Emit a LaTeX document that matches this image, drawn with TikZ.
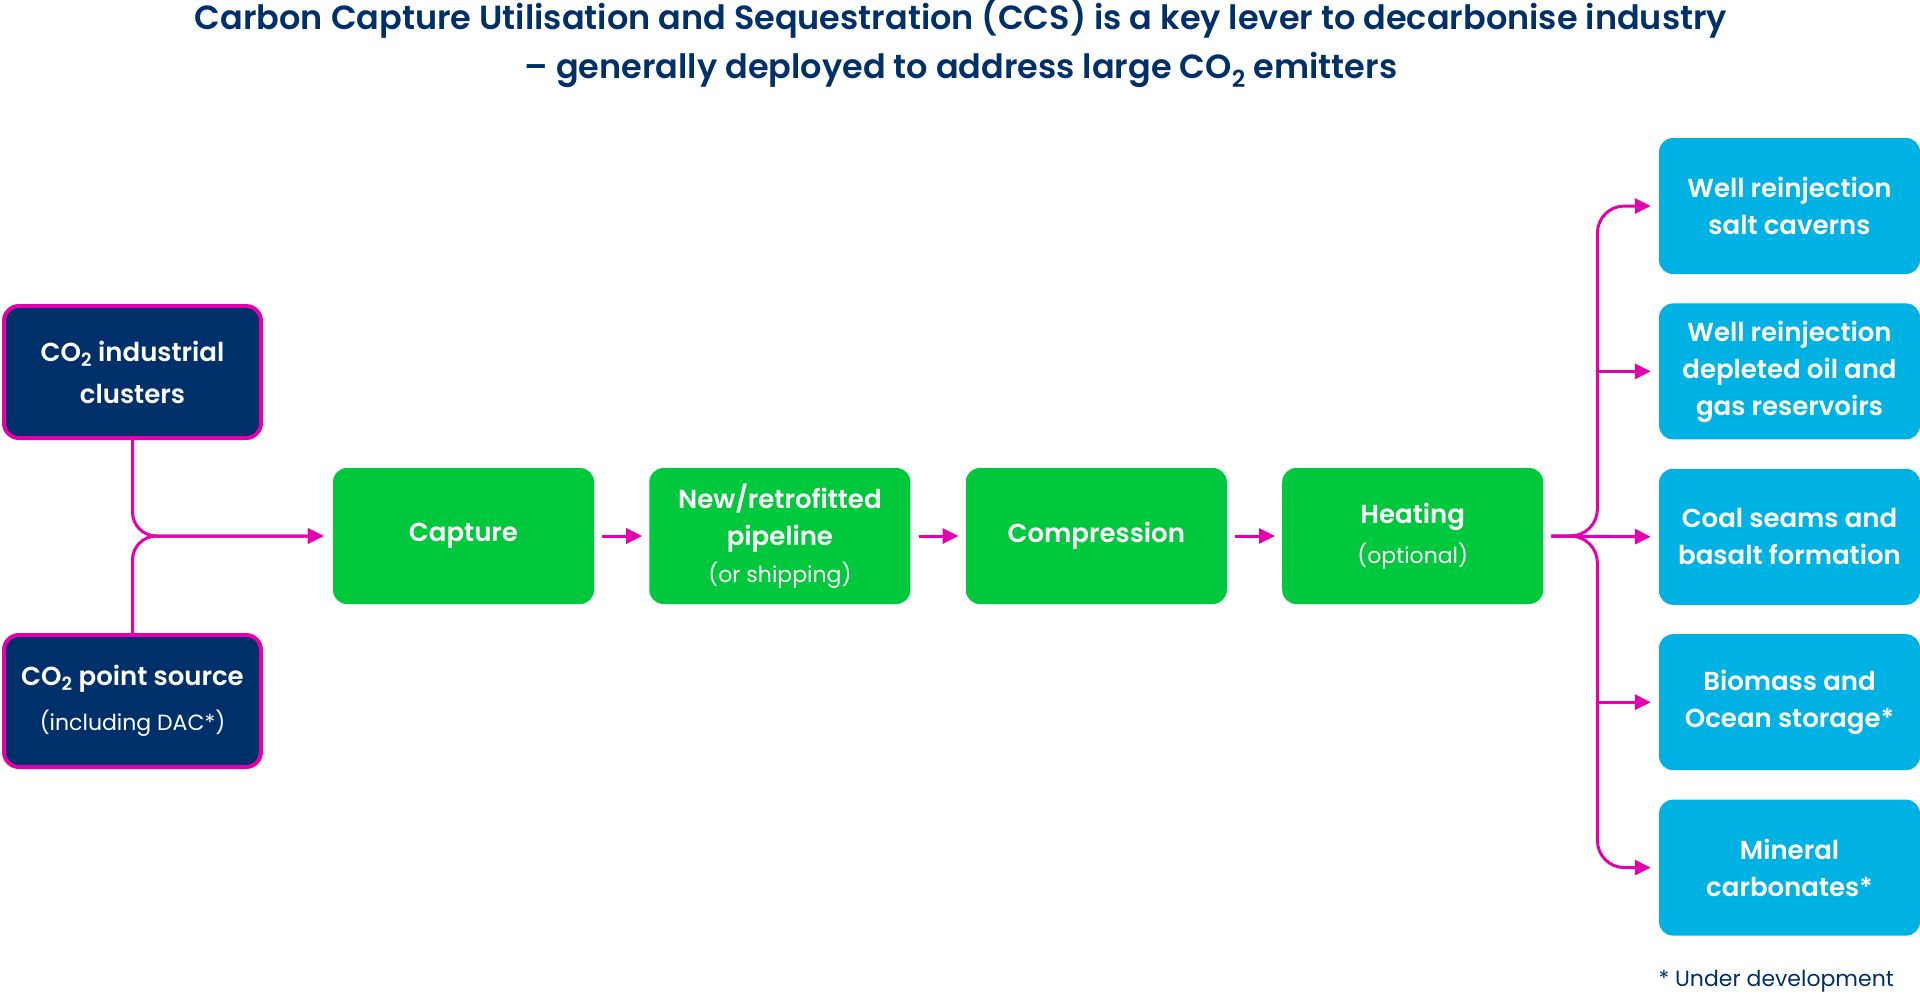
\documentclass[tikz,border=0pt]{standalone}
\usepackage{fontspec}
\setmainfont{Poppins}[BoldFont={Poppins SemiBold}]
\usepackage{xcolor}
\usetikzlibrary{positioning,calc,arrows.meta}

\definecolor{navy}{RGB}{0,48,105}
\definecolor{pinkline}{RGB}{228,0,172}
\definecolor{boxgreen}{RGB}{0,200,60}
\definecolor{boxblue}{RGB}{0,178,227}
\newcommand{\parenfont}{\fontsize{22}{30}\selectfont\mdseries}

\begin{document}
\begin{tikzpicture}[x=1pt,y=-1pt,
    src/.style={draw=pinkline, line width=4pt, fill=navy, rounded corners=15pt, minimum width=257pt, minimum height=132pt, inner sep=0pt, text=white, align=center, font=\fontsize{26}{42}\selectfont\bfseries},
    proc/.style={fill=boxgreen, rounded corners=14pt, minimum width=261pt, minimum height=136pt, inner sep=0pt, text=white, align=center, font=\fontsize{26}{37}\selectfont\bfseries},
    store/.style={proc, fill=boxblue},
    flow/.style={draw=pinkline, line width=3pt, -{Triangle[length=16pt,width=15pt]}}]
    \useasboundingbox (0,0) rectangle (1920,997);

    \node[text=navy, align=center, font=\fontsize{33.5}{49}\selectfont\bfseries] (title) at (961,43)
        {Carbon Capture Utilisation and Sequestration (CCS) is a key lever to decarbonise industry\\
         -- generally deployed to address large CO\textsubscript{2} emitters};

    % sources
    \node[src] (clusters) at (132.5,372) {CO\textsubscript{2} industrial\\clusters};
    \node[src] (pointsrc) at (132.5,701) {CO\textsubscript{2} point source\\[3pt]{\parenfont (including DAC*)}};

    % chain
    \node[proc] (capture) at (463.5,536) {Capture};
    \node[proc, right=55pt of capture] (pipeline) {New/retrofitted\\pipeline\\{\parenfont (or shipping)}};
    \node[proc, right=55pt of pipeline] (compress) {Compression};
    \node[proc, right=55pt of compress] (heating) {Heating\\[3pt]{\parenfont (optional)}};

    % storage options
    \node[store] (salt) at (1789.5,206) {Well reinjection\\salt caverns};
    \node[store, below=29pt of salt] (depleted) {Well reinjection\\depleted oil and\\gas reservoirs};
    \node[store, below=29pt of depleted] (coal) {Coal seams and\\basalt formation};
    \node[store, below=29pt of coal] (biomass) {Biomass and\\Ocean storage*};
    \node[store, below=29pt of biomass] (mineral) {Mineral\\carbonates*};

    \node[anchor=west, text=navy, font=\fontsize{22}{26}\selectfont] (note) at (1655,981) {* Under development};

    \draw[flow, rounded corners=24pt] (clusters.south) |- ([xshift=-9pt]capture.west);
    \draw[flow, rounded corners=24pt] (pointsrc.north) |- ([xshift=-9pt]capture.west);

    \foreach \a/\b in {capture/pipeline, pipeline/compress, compress/heating}
        \draw[flow] ([xshift=8pt]\a.east) -- ([xshift=-7pt]\b.west);

    \coordinate (fork) at ([xshift=54pt]heating.east);
    \draw[flow, rounded corners=27pt] ([xshift=8pt]heating.east) -| (fork |- salt) -- ([xshift=-8pt]salt.west);
    \draw[flow, rounded corners=27pt] ([xshift=8pt]heating.east) -| (fork |- mineral) -- ([xshift=-8pt]mineral.west);
    \draw[flow] ([xshift=8pt]heating.east) -- ([xshift=-8pt]coal.west);
    \draw[flow] (fork |- depleted) -- ([xshift=-8pt]depleted.west);
    \draw[flow] (fork |- biomass) -- ([xshift=-8pt]biomass.west);
\end{tikzpicture}
\end{document}
